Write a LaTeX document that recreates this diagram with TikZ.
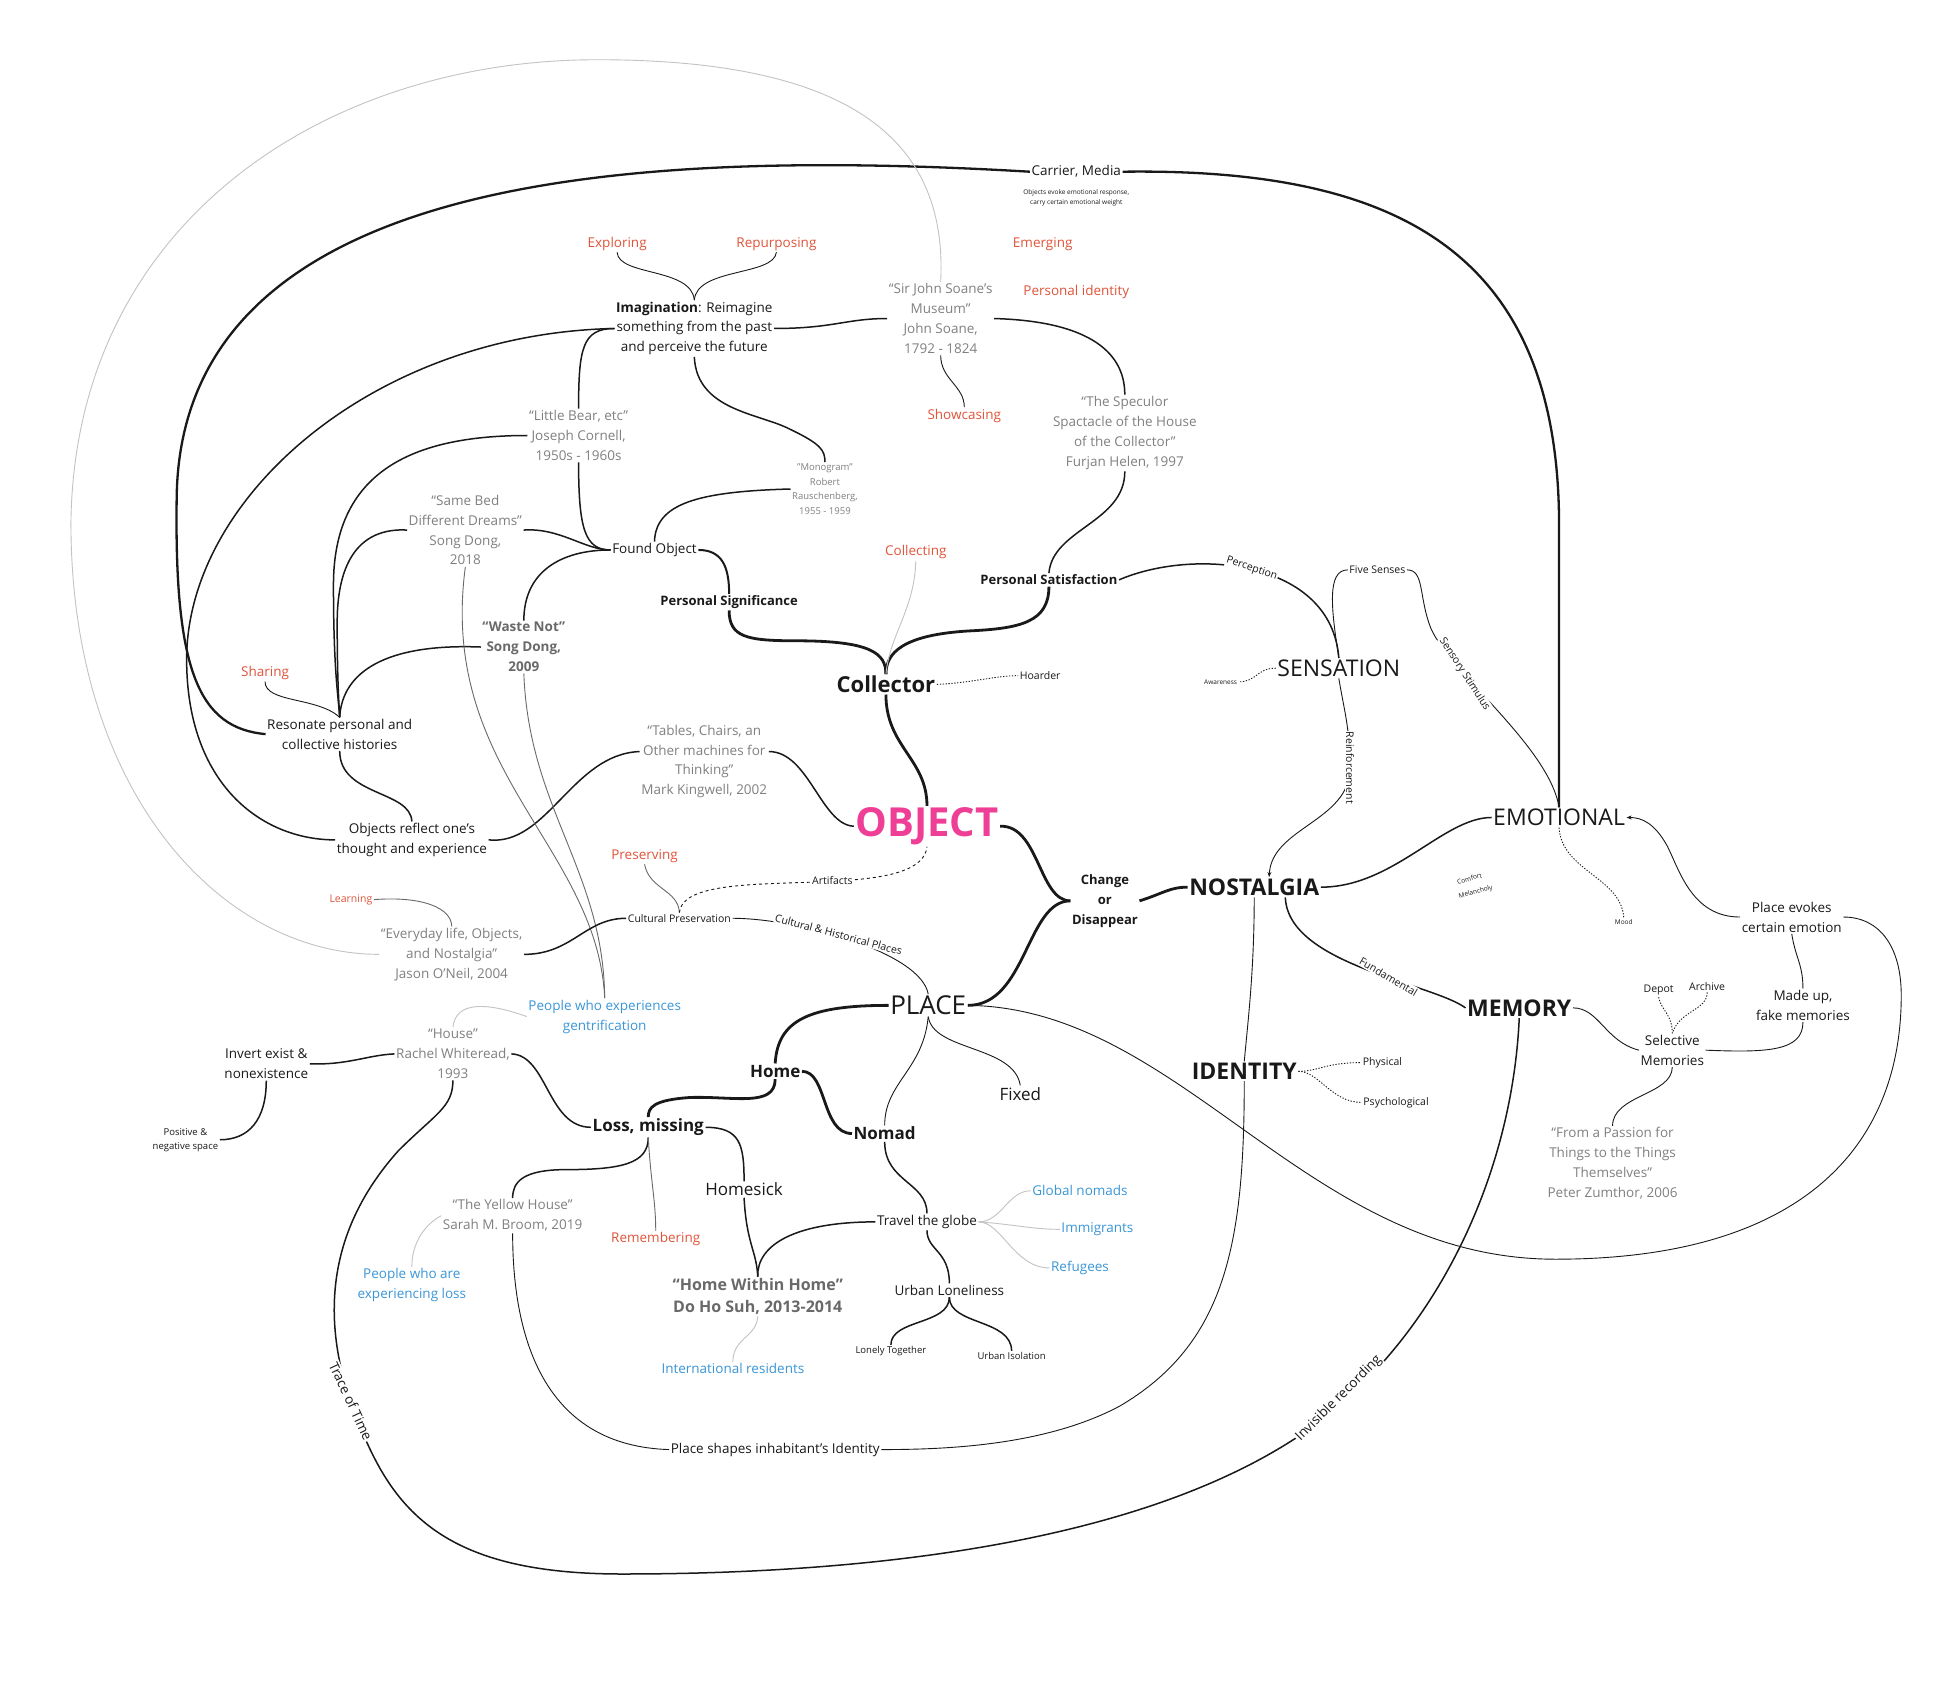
\documentclass[tikz,border=0pt]{standalone}
\usepackage{fontspec}
\setmainfont{Open Sans}
\usetikzlibrary{arrows.meta,calc}
\pgfdeclarelayer{bg}
\pgfsetlayers{bg,main}
\definecolor{ink}{RGB}{25,25,25}
\definecolor{refg}{RGB}{128,128,128}
\definecolor{redc}{RGB}{224,84,58}
\definecolor{bluec}{RGB}{58,150,215}
\definecolor{pinkc}{RGB}{238,62,150}
\definecolor{lg}{RGB}{195,195,195}
\definecolor{mg}{RGB}{105,105,105}
\begin{document}
\begin{tikzpicture}[x=1.2443pt,y=-1.2443pt,
  every node/.style={inner sep=1.5pt, align=center, text=ink},
  f13/.style={font=\fontsize{13.5}{19.9}\selectfont},
  f10/.style={font=\fontsize{10.5}{13}\selectfont},
  f7/.style={font=\fontsize{6.5}{9.5}\selectfont},
  f17/.style={font=\fontsize{17}{21}\selectfont},
  fb13/.style={font=\bfseries\fontsize{13}{19.9}\selectfont},
  fb17/.style={font=\bfseries\fontsize{17}{21}\selectfont},
  fbig/.style={font=\fontsize{23}{28}\selectfont},
  fbigb/.style={font=\bfseries\fontsize{23}{28}\selectfont},
  refn/.style={f13,text=refg},
  redn/.style={f13,text=redc},
  bluen/.style={f13,text=bluec},
  lab/.style={fill=white, inner sep=1pt},
  thk/.style={line width=2.8pt, draw=ink},
  med/.style={line width=1.5pt, draw=ink},
  thn/.style={line width=0.9pt, draw=ink},
  lgl/.style={line width=0.9pt, draw=lg},
  dotl/.style={line width=0.9pt, draw=ink, dash pattern=on 1.3pt off 1.6pt},
  arr/.style={-{Stealth[length=5pt,width=4pt]}}
]
\useasboundingbox (0,0) rectangle (1568,1353);

% ---------- nodes ----------
\node[f13] (carrier) at (865,138) {Carrier, Media};
\node[f7] (carsub) at (865,159) {Objects evoke emotional response,\\carry certain emotional weight};
\node[redn] (exploring) at (496,196) {Exploring};
\node[redn] (repurp) at (624,196) {Repurposing};
\node[redn] (emerging) at (838,196) {Emerging};
\node[redn] (persid) at (865,235) {Personal identity};
\node[f13] (imag) at (558,264) {\textbf{Imagination}: Reimagine\\something from the past\\and perceive the future};
\node[refn] (soane) at (756,256) {“Sir John Soane's\\Museum”\\John Soane,\\1792 - 1824};
\node[redn] (showcasing) at (775,334) {Showcasing};
\node[refn] (speculor) at (904,348) {“The Speculor\\Spactacle of the House\\of the Collector”\\Furjan Helen, 1997};
\node[refn] (littlebear) at (465,350) {“Little Bear, etc”\\Joseph Cornell,\\1950s - 1960s};
\node[refn, font=\fontsize{9.5}{14.5}\selectfont] (monogram) at (663,393) {"Monogram"\\Robert\\Rauschenberg,\\1955 - 1959};
\node[refn] (samebed) at (374,426) {“Same Bed\\Different Dreams”\\Song Dong,\\2018};
\node[f13] (found) at (526,442) {Found Object};
\node[redn] (collecting) at (736,444) {Collecting};
\node[fb13] (persig) at (586,484) {Personal Significance};
\node[fb13] (perssat) at (843,466) {Personal Satisfaction};
\node[f10] (fivesenses) at (1107,458) {Five Senses};
\node[fbig] (sensation) at (1076,537) {SENSATION};
\node[f7] (awareness) at (981,548) {Awareness};
\node[f10] (hoarder) at (836,543) {Hoarder};
\node[font=\bfseries\fontsize{22}{26}\selectfont] (collector) at (712,550) {Collector};
\node[text=mg, font=\bfseries\fontsize{13.5}{19.9}\selectfont] (wastenot) at (421,520) {“Waste Not”\\Song Dong,\\2009};
\node[redn] (sharing) at (213,541) {Sharing};
\node[f13] (resonate) at (273,590) {Resonate personal and\\collective histories};
\node[refn] (tables) at (566,612) {“Tables, Chairs, an\\Other machines for\\Thinking”\\Mark Kingwell, 2002};
\node[fbig] (emotional) at (1253,657) {EMOTIONAL};
\node[font=\bfseries\fontsize{40}{44}\selectfont, text=pinkc] (object) at (745,664) {OBJECT};
\node[f13] (reflect) at (331,675) {Objects reflect one's\\thought and experience};
\node[redn] (preserving) at (518,688) {Preserving};
\node[fb13] (change) at (888,724) {Change\\or\\Disappear};
\node[fbigb] (nostalgia) at (1008,713) {NOSTALGIA};
\node[f7, rotate=15] (comfort) at (1181,706) {Comfort};
\node[f7, rotate=15] (melancholy) at (1186,717) {Melancholy};
\node[f7] (mood) at (1305,741) {Mood};
\node[f13] (evokes) at (1440,737) {Place evokes\\certain emotion};
\node[f10, text=redc] (learning) at (282,723) {Learning};
\node[refn] (everyday) at (363,767) {“Everyday life, Objects,\\and Nostalgia”\\Jason O'Neil, 2004};
\node[f10] (culturalp) at (546,738) {Cultural Preservation};
\node[f10] (depot) at (1333,796) {Depot};
\node[f10] (archive) at (1372,793) {Archive};
\node[f13] (madeup) at (1449,808) {Made up,\\fake memories};
\node[font=\fontsize{26}{30}\selectfont] (place) at (746,808) {PLACE};
\node[fbigb] (memory) at (1221,810) {MEMORY};
\node[bluen] (gentr) at (486,817) {People who experiences\\gentrification};
\node[refn] (house) at (364,847) {“House”\\Rachel Whiteread,\\1993};
\node[f13] (invert) at (214,855) {Invert exist \&\\nonexistence};
\node[f13] (selmem) at (1344,844) {Selective\\Memories};
\node[f10] (physical) at (1111,854) {Physical};
\node[f10] (psych) at (1122,886) {Psychological};
\node[fbigb] (identity) at (1000,861) {IDENTITY};
\node[fb17] (home) at (623,861) {Home};
\node[f17] (fixed) at (820,879) {Fixed};
\node[fb17] (loss) at (521,906) {Loss, missing};
\node[fb17] (nomad) at (711,911) {Nomad};
\node[font=\fontsize{9.5}{14}\selectfont] (positive) at (149,916) {Positive \&\\negative space};
\node[refn] (passion) at (1296,935) {“From a Passion for\\Things to the Things\\Themselves”\\Peter Zumthor, 2006};
\node[f17] (homesick) at (598,956) {Homesick};
\node[bluen] (globalnomads) at (868,957) {Global nomads};
\node[refn] (yellow) at (412,977) {“The Yellow House”\\Sarah M. Broom, 2019};
\node[f13] (travel) at (745,982) {Travel the globe};
\node[bluen] (immigrants) at (882,988) {Immigrants};
\node[redn] (remembering) at (527,996) {Remembering};
\node[bluen] (refugees) at (868,1019) {Refugees};
\node[bluen] (peopleloss) at (331,1033) {People who are\\experiencing loss};
\node[text=mg, font=\bfseries\fontsize{16}{22}\selectfont] (homewithin) at (609,1042) {“Home Within Home”\\Do Ho Suh, 2013-2014};
\node[f13] (urbanlone) at (763,1037) {Urban Loneliness};
\node[font=\fontsize{9.5}{12}\selectfont] (lonely) at (716,1086) {Lonely Together};
\node[font=\fontsize{9.5}{12}\selectfont] (urbaniso) at (813,1090) {Urban Isolation};
\node[bluen] (intl) at (589,1100) {International residents};
\node[f13] (placeshapes) at (623,1165) {Place shapes inhabitant's Identity};

% labels sitting on connectors
\node[f13, lab, rotate=45] (invisible) at (1076,1124) {Invisible recording};
\node[f13, lab, rotate=-65] (trace) at (282,1126) {Trace of Time};
\node[f10, lab, rotate=-30] (fundamental) at (1116,785) {Fundamental};
\node[f10, lab, rotate=-18] (perception) at (1006,457) {Perception};
\node[f10, lab, rotate=-57] (sensory) at (1177,542) {Sensory Stimulus};
\node[f10, lab, rotate=-90] (reinf) at (1085,617) {Reinforcement};
\node[f10, lab] (artifacts) at (669,708) {Artifacts};
\node[f10, lab, rotate=-15] (chp) at (674,751) {Cultural \& Historical Places};

% ---------- connectors ----------
\begin{pgfonlayer}{bg}
\fill[white] (0,0) rectangle (1568,1353);
% long arcs
\draw[line width=2.3pt, draw=ink] (carrier.west) .. controls (520,120) and (145,135) .. (142,400) .. controls (140,540) and (160,585) .. (resonate.west);
\draw[line width=2.3pt, draw=ink] (carrier.east) .. controls (1120,135) and (1252,200) .. (1253,420) -- (emotional.north);
\draw[lgl] (soane.north) .. controls (762,110) and (680,48) .. (480,48) .. controls (260,48) and (60,180) .. (57,420) .. controls (57,640) and (180,767) .. (everyday.west);
% imagination cluster
\draw[med] (imag.east) .. controls (670,264) and (680,256) .. (soane.west);
\draw[thn] (exploring.south) .. controls (497,222) and (556,215) .. (imag.north);
\draw[thn] (repurp.south) .. controls (622,222) and (560,215) .. (imag.north);
\draw[med] (imag.west) .. controls (300,268) and (150,400) .. (150,530) .. controls (150,630) and (210,675) .. (reflect.west);
\draw[med] (imag.west) .. controls (468,264) and (465,280) .. (littlebear.north);
\draw[med] (imag.south) .. controls (560,330) and (610,332) .. (635,345) .. controls (660,357) and (663,362) .. (monogram.north);
\draw[med] (littlebear.south) .. controls (465,425) and (470,442) .. (found.west);
\draw[med] (littlebear.west) .. controls (330,350) and (268,380) .. (268,470) .. controls (268,540) and (272,560) .. (resonate.north);
\draw[med] (samebed.east) .. controls (450,424) and (470,442) .. (found.west);
\draw[med] (samebed.west) .. controls (290,424) and (271,450) .. (271,500) .. controls (271,540) and (272,560) .. (resonate.north);
\draw[med] (wastenot.west) .. controls (310,517) and (275,540) .. (resonate.north);
\draw[med] (wastenot.north) .. controls (421,460) and (450,442) .. (found.west);
\draw[med] (monogram.west) .. controls (560,395) and (527,405) .. (found.north);
\draw[line width=2pt, draw=ink] (found.east) .. controls (580,442) and (586,455) .. (persig.north);
\draw[thk] (persig.south) .. controls (586,512) and (600,515) .. (640,515) .. controls (700,515) and (712,525) .. (collector.north);
\draw[thk] (perssat.south) .. controls (843,500) and (820,505) .. (780,507) .. controls (725,510) and (712,525) .. (collector.north);
\draw[med] (speculor.south) .. controls (904,420) and (846,425) .. (perssat.north);
\draw[med] (soane.east) .. controls (870,258) and (904,280) .. (speculor.north);
\draw[thn] (showcasing.north) .. controls (775,310) and (756,305) .. (soane.south);
\draw[lgl] (collecting.south) .. controls (735,490) and (715,510) .. (collector.north);
\draw[dotl] (collector.east) .. controls (780,549) and (800,543) .. (hoarder.west);
\draw[thk] (collector.south) .. controls (712,600) and (745,610) .. (object.north);
\draw[med] ($(tables.east)+(0,-8)$) .. controls (650,604) and (660,663) .. (object.west);
\draw[med] ($(tables.west)+(0,-8)$) .. controls (460,606) and (440,680) .. (reflect.east);
\draw[med] (resonate.south) .. controls (273,640) and (330,635) .. (reflect.north);
\draw[thn] (sharing.south) .. controls (213,565) and (255,560) .. (resonate.north);
% object / place / nostalgia
\draw[thk] (object.east) .. controls (835,663) and (835,724) .. (change.west);
\draw[thk] (place.east) .. controls (825,808) and (825,724) .. (change.west);
\draw[thk] (change.east) .. controls (935,718) and (940,713) .. (nostalgia.west);
\draw[med] (nostalgia.east) .. controls (1120,713) and (1160,657) .. (emotional.west);
\draw[med] ($(nostalgia.south)+(25,0)$) .. controls (1035,775) and (1150,790) .. (memory.west);
\draw[thn] (nostalgia.south) .. controls (1008,780) and (1003,820) .. (identity.north);
\draw[thn] (identity.south) .. controls (1000,1000) and (985,1080) .. (900,1130) .. controls (840,1162) and (760,1165) .. (placeshapes.east);
\draw[med] (loss.south) .. controls (521,935) and (500,940) .. (455,940) .. controls (420,940) and (412,950) .. (yellow.north);
\draw[thn] (yellow.south) .. controls (412,1080) and (440,1162) .. (placeshapes.west);
% sensation
\draw[med] (perssat.east) .. controls (960,440) and (1070,450) .. (sensation.north);
\draw[thn] (sensation.north) .. controls (1070,490) and (1066,458) .. (fivesenses.west);
\draw[thn] (fivesenses.east) .. controls (1145,458) and (1140,480) .. (1150,505) .. controls (1165,540) and (1245,600) .. (emotional.north);
\draw[thn, arr] (sensation.south) .. controls (1080,570) and (1085,585) .. (1085,617) .. controls (1085,660) and (1022,665) .. ($(nostalgia.north)+(12,0)$);
\draw[dotl] (sensation.west) .. controls (1010,537) and (1010,548) .. (awareness.east);
% emotional / memory
\draw[thn, arr] (evokes.west) .. controls (1360,737) and (1350,700) .. (1340,680) .. controls (1330,662) and (1320,657) .. (emotional.east);
\draw[dotl] (emotional.south) .. controls (1255,700) and (1303,705) .. (mood.north);
\draw[thn] (evokes.south) .. controls (1443,770) and (1449,775) .. (madeup.north);
\draw[thn] (place.east) .. controls (950,810) and (1050,1012) .. (1250,1012) .. controls (1450,1012) and (1528,920) .. (1528,800) .. controls (1528,760) and (1510,737) .. (evokes.east);
\draw[thn] (memory.east) .. controls (1285,810) and (1290,837) .. (selmem.west);
\draw[thn] (selmem.east) .. controls (1420,846) and (1449,845) .. (madeup.south);
\draw[dotl] (depot.south) .. controls (1335,812) and (1344,815) .. (selmem.north);
\draw[dotl] (archive.south) .. controls (1372,812) and (1350,812) .. (selmem.north);
\draw[thn] (selmem.south) .. controls (1344,880) and (1296,880) .. (passion.north);
\draw[dotl] (identity.east) .. controls (1060,861) and (1065,854) .. (physical.west);
\draw[dotl] (identity.east) .. controls (1060,861) and (1070,886) .. (psych.west);
\draw[med] (memory.south) .. controls (1215,950) and (1150,1080) .. (1050,1150) .. controls (920,1240) and (700,1265) .. (500,1265) .. controls (380,1265) and (330,1230) .. (300,1170) .. controls (250,1070) and (262,990) .. (320,925) .. controls (350,895) and (364,890) .. (house.south);
% house / loss
\draw[med] (house.west) .. controls (295,848) and (280,856) .. (invert.east);
\draw[med] (invert.south) .. controls (214,900) and (200,916) .. (positive.east);
\draw[med] (house.east) .. controls (440,848) and (440,906) .. (loss.west);
\draw[lgl] (house.north) .. controls (366,805) and (390,805) .. (gentr.west);
\draw[thn, draw=mg] (samebed.south) .. controls (352,620) and (480,680) .. (gentr.north);
\draw[thn, draw=mg] (wastenot.south) .. controls (425,650) and (485,700) .. (gentr.north);
\draw[thn, draw=mg] (learning.east) .. controls (340,720) and (363,730) .. (everyday.north);
\draw[med] (everyday.east) .. controls (460,767) and (470,738) .. (culturalp.west);
\draw[thn] (culturalp.east) .. controls (640,738) and (740,765) .. (place.north);
\draw[thn, draw=mg] (preserving.south) .. controls (522,715) and (545,715) .. (culturalp.north);
\draw[thn, dashed] (culturalp.north) .. controls (550,690) and (740,730) .. (object.south);
\draw[thk] (place.west) .. controls (650,808) and (625,820) .. (home.north);
\draw[thk] (home.east) .. controls (665,861) and (660,911) .. (nomad.west);
\draw[thk] (home.south) .. controls (623,890) and (590,881) .. (555,882) .. controls (525,884) and (521,890) .. (loss.north);
\draw[thn] (place.south) .. controls (742,860) and (711,870) .. (nomad.north);
\draw[thn] (place.south) .. controls (750,845) and (815,840) .. (fixed.north);
\draw[med] (loss.east) .. controls (595,906) and (598,920) .. (homesick.north);
\draw[thn, draw=mg] (loss.south) .. controls (523,950) and (527,965) .. (remembering.north);
\draw[med] (homesick.south) .. controls (600,1000) and (608,1005) .. (homewithin.north);
\draw[med] (travel.west) .. controls (640,982) and (608,1000) .. (homewithin.north);
\draw[med] (nomad.south) .. controls (711,950) and (745,950) .. (travel.north);
\draw[med] (travel.south) .. controls (745,1005) and (763,1005) .. (urbanlone.north);
\draw[lgl] (travel.east) .. controls (805,982) and (810,957) .. (globalnomads.west);
\draw[lgl] (travel.east) .. controls (815,984) and (830,988) .. (immigrants.west);
\draw[lgl] (travel.east) .. controls (805,982) and (815,1019) .. (refugees.west);
\draw[med] (urbanlone.south) .. controls (763,1065) and (716,1060) .. (lonely.north);
\draw[med] (urbanlone.south) .. controls (763,1065) and (813,1060) .. (urbaniso.north);
\draw[lgl] (homewithin.south) .. controls (608,1075) and (589,1075) .. (intl.north);
\draw[lgl] (yellow.west) .. controls (340,985) and (331,1000) .. (peopleloss.north);
\end{pgfonlayer}
\end{tikzpicture}
\end{document}
